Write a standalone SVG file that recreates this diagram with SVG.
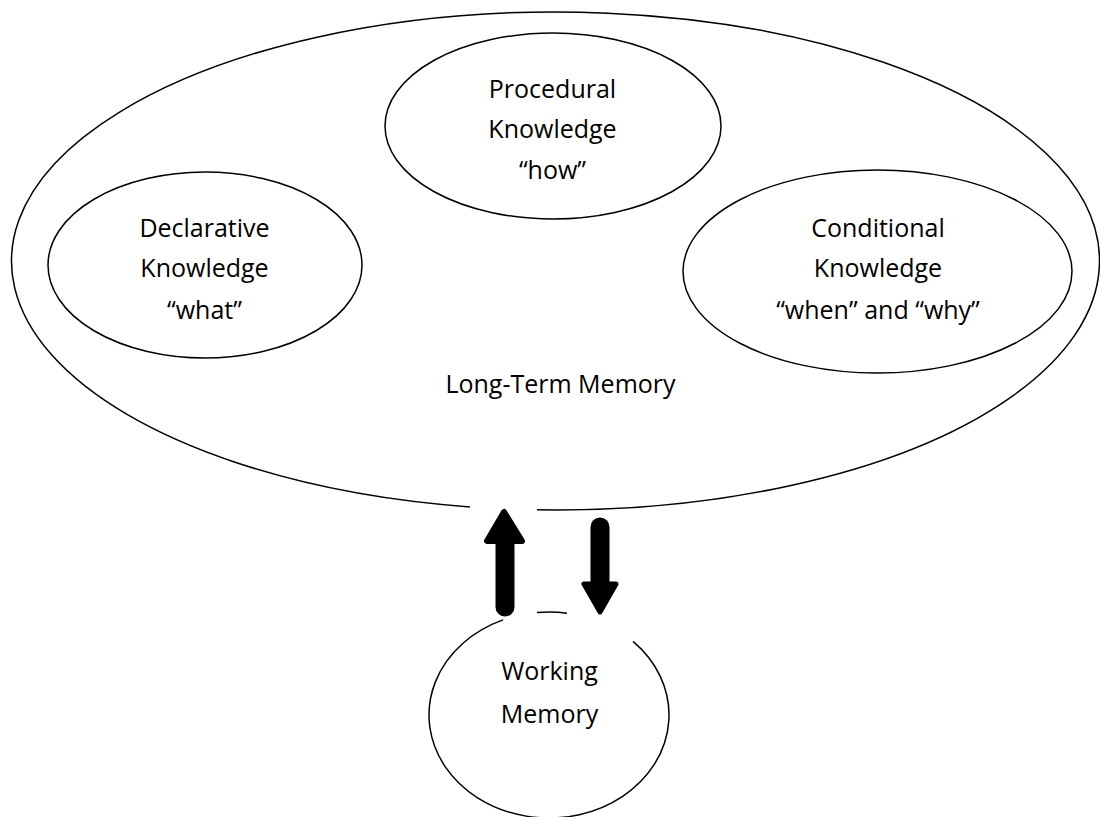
<svg xmlns="http://www.w3.org/2000/svg" width="1100" height="817" viewBox="0 0 1100 817">
<style>
.sh{fill:none;stroke:#000;stroke-width:1.5}
.t{font-family:"Open Sans","Liberation Sans",sans-serif;font-size:25px;fill:#000;text-anchor:middle}
.ar{stroke:#000;fill:#000;stroke-linecap:round;stroke-linejoin:round}
</style>
<rect width="1100" height="817" fill="#fff"/>
<g id="long-term-memory">
<path class="sh" d="M 537 509.85 A 544 249 0 1 0 470 506.9"/>
<text class="t" x="560.5" y="393">Long-Term Memory</text>
</g>
<g id="procedural">
<ellipse class="sh" cx="553" cy="126" rx="168" ry="93"/>
<text class="t" x="552.5" y="98">Procedural</text>
<text class="t" x="552.5" y="138">Knowledge</text>
<text class="t" x="552.5" y="179">“how”</text>
</g>
<g id="declarative">
<ellipse class="sh" cx="205" cy="265" rx="157" ry="93"/>
<text class="t" x="204.5" y="237">Declarative</text>
<text class="t" x="204.5" y="277">Knowledge</text>
<text class="t" x="204.5" y="319">“what”</text>
</g>
<g id="conditional">
<ellipse class="sh" cx="877.5" cy="271.5" rx="194.5" ry="101.5"/>
<text class="t" x="878" y="237">Conditional</text>
<text class="t" x="878" y="277">Knowledge</text>
<text class="t" x="878" y="319">“when” and “why”</text>
</g>
<g id="working-memory">
<path class="sh" d="M 633 641.44 A 120 103 0 1 1 503 619.87"/>
<path class="sh" d="M 537 612.52 A 120 103 0 0 1 567 613.16"/>
<text class="t" x="549.5" y="680">Working</text>
<text class="t" x="549.5" y="723">Memory</text>
</g>
<g id="connectors">
<g id="up-arrow">
<line class="ar" x1="505" y1="545" x2="505" y2="607" stroke-width="19"/>
<polygon class="ar" points="504,512 487,541 522,541" stroke-width="6"/>
</g>
<g id="down-arrow">
<line class="ar" x1="600" y1="527" x2="600" y2="585" stroke-width="19"/>
<polygon class="ar" points="584,584 616,584 600,612" stroke-width="5"/>
</g>
</g>
</svg>
